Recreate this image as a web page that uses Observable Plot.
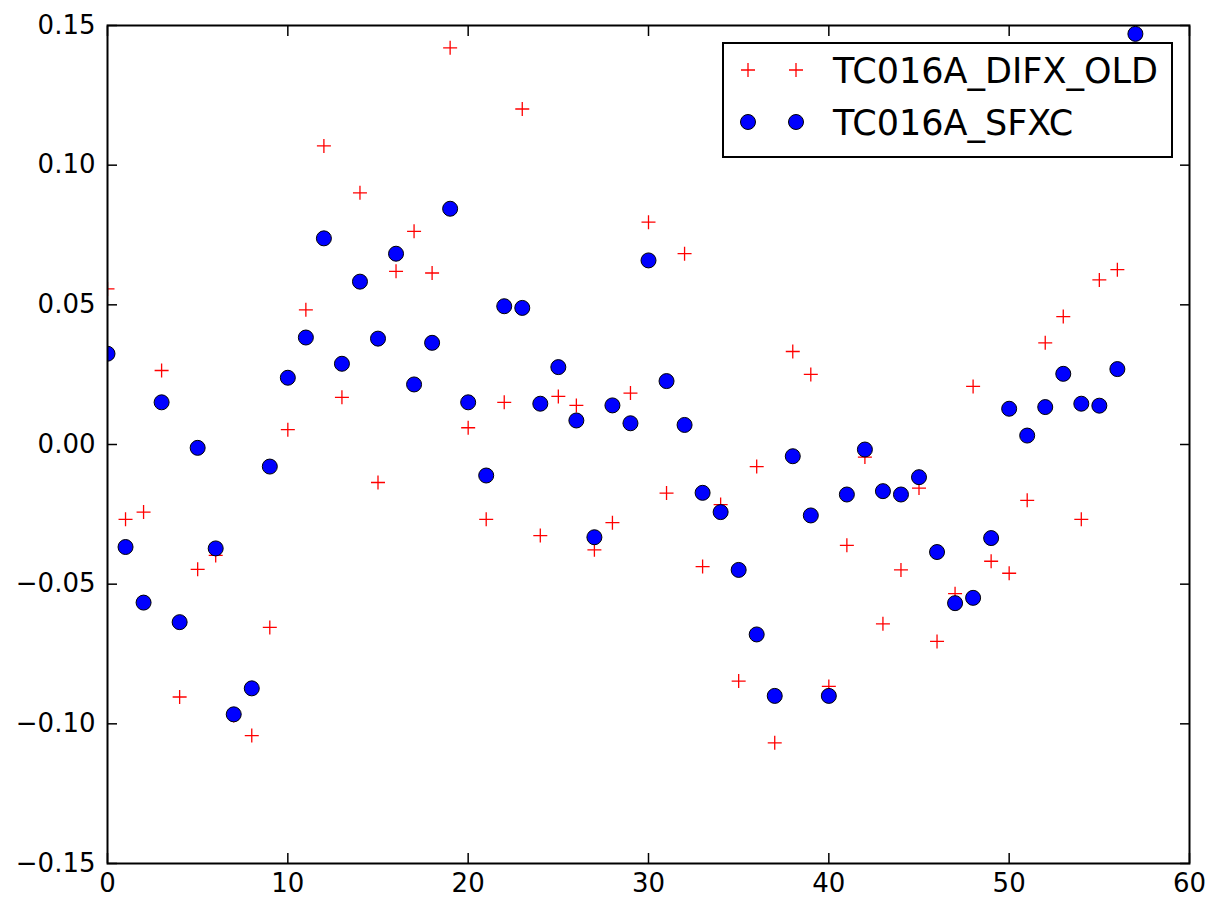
<!DOCTYPE html>
<html>
<head>
<meta charset="utf-8">
<script src="https://cdn.jsdelivr.net/npm/d3@7"></script>
<script src="https://cdn.jsdelivr.net/npm/@observablehq/plot@0.6"></script>
<style>
  html, body { margin: 0; padding: 0; background: #fff; }
  #chart svg { display: block; }
</style>
</head>
<body>
<div id="chart"></div>
<script>
// ---- Data ----
const seriesNames = ["TC016A_DIFX_OLD", "TC016A_SFXC"];

const difxOld = [0.0557, -0.0268, -0.0242, 0.0265, -0.0904, -0.0447, -0.0397, -0.0970, -0.1042, -0.0655,
  0.0053, 0.0482, 0.1069, 0.0169, 0.0901, -0.0136, 0.0620, 0.0763, 0.0614, 0.1420,
  0.0060, -0.0268, 0.0151, 0.1201, -0.0326, 0.0172, 0.0140, -0.0377, -0.0280, 0.0184,
  0.0796, -0.0174, 0.0683, -0.0437, -0.0215, -0.0847, -0.0079, -0.1068, 0.0333, 0.0251,
  -0.0866, -0.0361, -0.0045, -0.0642, -0.0449, -0.0156, -0.0705, -0.0534, 0.0208, -0.0418,
  -0.0461, -0.0200, 0.0364, 0.0458, -0.0268, 0.0589, 0.0626];

const sfxc = [0.0325, -0.0367, -0.0566, 0.0151, -0.0636, -0.0012, -0.0372, -0.0966, -0.0873, -0.0079,
  0.0239, 0.0383, 0.0738, 0.0289, 0.0583, 0.0379, 0.0683, 0.0215, 0.0364, 0.0844,
  0.0151, -0.0111, 0.0495, 0.0489, 0.0146, 0.0277, 0.0086, -0.0332, 0.0140, 0.0076,
  0.0659, 0.0227, 0.0070, -0.0173, -0.0242, -0.0449, -0.0680, -0.0900, -0.0042, -0.0254,
  -0.0900, -0.0179, -0.0018, -0.0167, -0.0179, -0.0117, -0.0385, -0.0568, -0.0549, -0.0335,
  0.0128, 0.0032, 0.0134, 0.0253, 0.0146, 0.0139, 0.0270, 0.1470];

const xTicks = [0, 10, 20, 30, 40, 50, 60];
const yTicks = [-0.15, -0.10, -0.05, 0.00, 0.05, 0.10, 0.15];

// ---- Build tables ----
const difxData = difxOld.map((v, i) => ({i, v}));
const sfxcData = sfxc.map((v, i) => ({i, v}));

const plusSymbol = {
  draw(ctx, size) {
    const h = Math.sqrt(size / Math.PI);
    ctx.moveTo(-h, 0); ctx.lineTo(h, 0);
    ctx.moveTo(0, -h); ctx.lineTo(0, h);
  }
};

const fmtY = d3.format(".2f");
const FONT = "DejaVu Sans";

const plot = Plot.plot({
  width: 1207,
  height: 900,
  marginLeft: 107,
  marginRight: 18,
  marginTop: 25,
  marginBottom: 37,
  style: {fontFamily: FONT, background: "#fff", color: "#000"},
  x: {domain: [0, 60]},
  y: {domain: [-0.15, 0.15]},
  marks: [
    // tick labels
    Plot.axisY(yTicks, {anchor: "left", tickSize: 0, tickPadding: 12, tickFormat: fmtY, fontSize: 26, label: null}),
    Plot.axisX(xTicks, {anchor: "bottom", tickSize: 0, tickPadding: 10, fontSize: 26, label: null}),
    // inward ticks on all four sides
    Plot.axisY(yTicks, {anchor: "left", tickSize: 10, dx: 10, fill: "none", strokeWidth: 1.5, label: null}),
    Plot.axisY(yTicks, {anchor: "right", tickSize: 10, dx: -10, fill: "none", strokeWidth: 1.5, label: null}),
    Plot.axisX(xTicks, {anchor: "bottom", tickSize: 10, dy: -10, fill: "none", strokeWidth: 1.5, label: null}),
    Plot.axisX(xTicks, {anchor: "top", tickSize: 10, dy: 10, fill: "none", strokeWidth: 1.5, label: null}),
    // data
    Plot.dot(difxData, {x: "i", y: "v", symbol: plusSymbol, r: 7, stroke: "#ff0000", fill: "none", strokeWidth: 1.3, clip: true}),
    Plot.dot(sfxcData, {x: "i", y: "v", r: 7.5, fill: "#0000ff", stroke: "#000", strokeWidth: 1, clip: true}),
    Plot.frame({stroke: "#000", strokeWidth: 2})
  ]
});

document.getElementById("chart").appendChild(plot);

// ---- Legend (inside plot, upper right) ----
const svg = d3.select(plot);
const lg = svg.append("g").attr("class", "legend")
  .attr("font-family", FONT).attr("text-anchor", "start");
lg.append("rect")
  .attr("x", 723).attr("y", 43).attr("width", 449).attr("height", 114)
  .attr("fill", "#fff").attr("stroke", "#000").attr("stroke-width", 2);

const rows = [{y: 70, name: seriesNames[0], kind: "plus"}, {y: 122, name: seriesNames[1], kind: "dot"}];
rows.forEach(r => {
  [748, 796].forEach(cx => {
    if (r.kind === "plus") {
      lg.append("path")
        .attr("d", `M${cx - 7},${r.y}H${cx + 7}M${cx},${r.y - 7}V${r.y + 7}`)
        .attr("stroke", "#ff0000").attr("stroke-width", 1.3).attr("fill", "none");
    } else {
      lg.append("circle").attr("cx", cx).attr("cy", r.y).attr("r", 7.5)
        .attr("fill", "#0000ff").attr("stroke", "#000").attr("stroke-width", 1);
    }
  });
  lg.append("text").attr("x", 833).attr("y", r.y).attr("dy", "0.36em")
    .attr("text-anchor", "start")
    .attr("font-size", 35).attr("fill", "#000").text(r.name);
});
</script>
</body>
</html>
